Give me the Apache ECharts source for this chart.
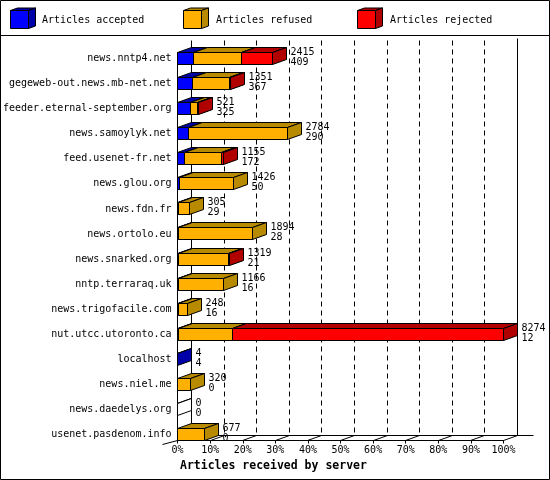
<!DOCTYPE html>
<html><head><meta charset="utf-8">
<script src="https://cdn.jsdelivr.net/npm/echarts@6/dist/echarts.min.js"></script>
<style>html,body{margin:0;padding:0;background:#fff}#c{width:550px;height:480px}</style>
</head><body><div id="c"></div>
<script>
const categories = ['news.nntp4.net','gegeweb-out.news.mb-net.net','feeder.eternal-september.org','news.samoylyk.net','feed.usenet-fr.net','news.glou.org','news.fdn.fr','news.ortolo.eu','news.snarked.org','nntp.terraraq.uk','news.trigofacile.com','nut.utcc.utoronto.ca','localhost','news.niel.me','news.daedelys.org','usenet.pasdenom.info'];
const offered  = [2415,1351,521,2784,1155,1426,305,1894,1319,1166,248,8274,4,320,0,677];
const accepted = [409,367,325,290,172,50,29,28,21,16,16,12,4,0,0,0];
const refused  = [1210,960,181,2494,953,1376,276,1866,1270,1150,232,1395,0,320,0,677];
const rejected = [796,24,15,0,30,0,0,0,28,0,0,6867,0,0,0,0];
const tickLabels = ['0%','10%','20%','30%','40%','50%','60%','70%','80%','90%','100%'];
const seriesNames = ['Articles accepted','Articles refused','Articles rejected'];
const xTitle = 'Articles received by server';

const FRONT = ['#0000ff','#ffb000','#ff0000'];
const DARK  = ['#0000a8','#b88a00','#b00000'];
const FONT = '"DejaVu Sans Mono", "Liberation Mono", monospace';
const DX = 14, DY = 5;
const xMax = Math.max(...offered);
const step = xMax / 10;
function px(v){ return Math.round(v - 0.5) + 0.5; }

const chart = echarts.init(document.getElementById('c'), null, {renderer:'canvas'});

function frameRender(params, api){
  const n = categories.length;
  const c0 = api.coord([0, 0]);
  const cN = api.coord([0, n - 1]);
  const x0 = px(c0[0]);
  const FB = px(cN[1]) + 6;
  const FT = px(c0[1]) - 13;
  const ch = [];
  const ls = {stroke:'#000', lineWidth:1};
  const line = (a,b,c,d,extra) => ch.push({type:'line', shape:{x1:a,y1:b,x2:c,y2:d}, style:Object.assign({}, ls, extra||{})});
  for (let k = 1; k <= 10; k++) {
    const xk = px(api.coord([k * step, 0])[0]);
    if (k < 10) line(xk + DX, FT - DY, xk + DX, FB - DY, {lineDash:[5,4]});
    else line(xk + DX, FT - DY - 2, xk + DX, FB - DY);
    line(xk, FB, xk + DX, FB - DY);
  }
  const x100 = px(api.coord([xMax, 0])[0]);
  line(x0 + DX, FT - DY, x0 + DX, FB - DY);
  line(x0 + DX, FB - DY, x100 + DX + 16, FB - DY);
  line(x0, px(c0[1]) - 6, x0, FB);
  line(x0 - 15, FB + 4, x0, FB);
  return {type:'group', children: ch};
}

function barRender(params, api){
  const i = api.value(1);
  const base = api.coord([0, i]);
  const x0 = px(base[0]);
  const cy = px(base[1]);
  const top = cy - 6, bot = cy + 6;
  const ch = [];
  const st = (f) => ({fill:f, stroke:'#000', lineWidth:1});
  function box(x1, x2, front, dark){
    ch.push({type:'polygon', shape:{points:[[x1,top],[x1+DX,top-DY],[x2+DX,top-DY],[x2,top]]}, style:st(dark)});
    ch.push({type:'rect', shape:{x:x1, y:top, width:x2-x1, height:bot-top}, style:st(front)});
    ch.push({type:'polygon', shape:{points:[[x2,top],[x2+DX,top-DY],[x2+DX,bot-DY],[x2,bot]]}, style:st(dark)});
  }
  const vals = [accepted[i], refused[i], rejected[i]];
  let cum = 0, xEnd = x0, any = false;
  vals.forEach((v, s) => {
    if (v > 0) {
      const x1 = px(api.coord([cum, i])[0]);
      cum += v;
      const x2 = px(api.coord([cum, i])[0]);
      box(x1, x2, FRONT[s], DARK[s]);
      xEnd = x2; any = true;
    }
  });
  if (!any) box(x0, x0, '#fff', '#fff');
  ch.push({type:'text', style:{text: offered[i] + '\n' + accepted[i], x: xEnd + DX + 4, y: cy - 1.5,
    fontSize:10, fontFamily:FONT, fill:'#000', align:'left', verticalAlign:'middle', lineHeight:10}});
  return {type:'group', children: ch};
}

const graphics = [
  {type:'rect', shape:{x:0.5, y:0.5, width:549, height:479}, style:{fill:'none', stroke:'#000', lineWidth:1}, z:100},
  {type:'line', shape:{x1:0, y1:35.5, x2:550, y2:35.5}, style:{stroke:'#000', lineWidth:1}, z:100},
  {type:'text', left:180, top:460, style:{text:xTitle, font:'bold 11.5px ' + FONT, fill:'#000'}}
];
const legendX = [10, 183, 357];
const legendTX = [42, 216, 390];
seriesNames.forEach((name, s) => {
  const lx = legendX[s] + 0.5;
  const t = 10.5, b = 28.5, r = lx + 18;
  const sty = (f) => ({fill:f, stroke:'#000', lineWidth:1});
  graphics.push({type:'polygon', shape:{points:[[lx,t],[lx+7,t-2.5],[r+7,t-2.5],[r,t]]}, style:sty(DARK[s])});
  graphics.push({type:'polygon', shape:{points:[[r,t],[r+7,t-2.5],[r+7,b-2.5],[r,b]]}, style:sty(DARK[s])});
  graphics.push({type:'rect', shape:{x:lx, y:t, width:18, height:18}, style:sty(FRONT[s])});
  graphics.push({type:'text', x:legendTX[s], y:20, style:{text:name, fontSize:10, fontFamily:FONT, fill:'#000', verticalAlign:'middle', align:'left'}});
});

chart.setOption({
  animation:false,
  backgroundColor:'#fff',
  grid:{left:176.5, width:327, top:46.1, height:400.8, containLabel:false},
  xAxis:{type:'value', min:0, max:xMax, interval:step, offset:-6.4,
    axisLine:{show:true, onZero:false, lineStyle:{color:'#000', width:1}},
    axisTick:{show:true, length:3, lineStyle:{color:'#000'}},
    axisLabel:{color:'#000', fontSize:10, fontFamily:FONT, margin:5,
      formatter:(v) => tickLabels[Math.round(v / step)] || ''},
    splitLine:{show:false}},
  yAxis:{type:'category', data:categories, inverse:true,
    axisLine:{show:false}, axisTick:{show:false}, splitLine:{show:false},
    axisLabel:{color:'#000', fontSize:10, fontFamily:FONT, margin:6, interval:0}},
  series:[
    {type:'custom', name:'frame', data:[[0,0]], encode:{x:0, y:1}, renderItem:frameRender, z:1, silent:true},
    {type:'custom', name:'bars', data:categories.map((c, i) => [offered[i], i]), encode:{x:0, y:1}, renderItem:barRender, z:2, clip:false}
  ],
  graphic:graphics
});
</script></body></html>
